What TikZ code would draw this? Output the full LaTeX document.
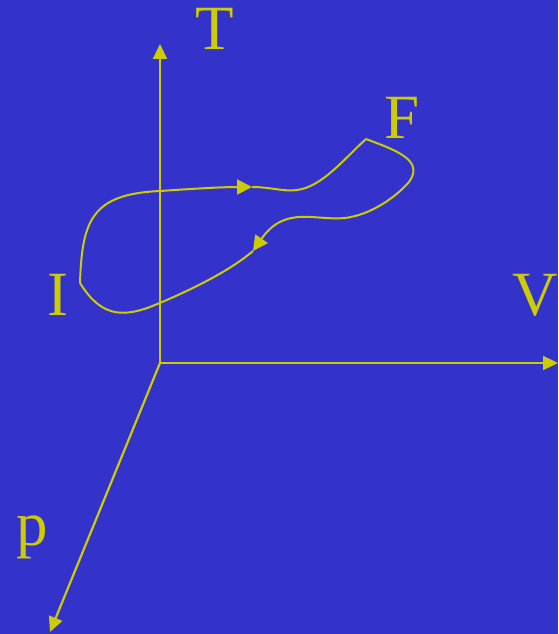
\documentclass[tikz,border=0pt]{standalone}
\usepackage{fontspec}
\setmainfont{Liberation Serif}
\usetikzlibrary{arrows.meta}
\definecolor{bg}{HTML}{3333CC}
\definecolor{yel}{HTML}{CCCC00}
\begin{document}
\begin{tikzpicture}[x=1pt,y=-1pt,
  axis/.style={draw=yel,line width=2.2pt,-{Triangle[length=15pt,width=14pt]}},
  curve/.style={draw=yel,line width=2pt},
  tip/.style={-{Triangle[length=15pt,width=15pt]}},
  lab/.style={text=yel,font=\fontsize{63}{63}\selectfont,inner sep=0pt}]
\fill[bg] (0,0) rectangle (558,634);
\useasboundingbox (0,0) rectangle (558,634);
\coordinate (O) at (160,363);
\coordinate (Tend) at (160,44);
\coordinate (Vend) at (558,363);
\coordinate (pend) at (50,632);
\draw[axis] (O) -- (Tend);
\draw[axis] (O) -- (Vend);
\draw[axis] (O) -- (pend);
\node[lab] (T) at (214.5,29) {T};
\node[lab] (F) at (402,117.5) {F};
\node[lab] (I) at (58,295) {I};
\node[lab] (V) at (535,295) {V};
\node[lab,anchor=base] (p) at (32,545) {p};
\coordinate (ci) at (80,283);
\coordinate (a1) at (252,187);
\coordinate (cf) at (366,139);
\coordinate (a2) at (253,251);
\draw[curve,tip] (ci) .. controls (82,220) and (92,194) .. (160,191) .. controls (190,189) and (220,187) .. (a1);
\draw[curve] (a1) .. controls (270,187) and (285,192) .. (297,190) .. controls (322,187) and (345,158) .. (cf);
\draw[curve,tip] (cf) .. controls (395,150) and (425,160) .. (409,182) .. controls (395,198) and (370,215) .. (345,218) .. controls (315,221) and (285,205) .. (a2);
\draw[curve] (a2) .. controls (225,275) and (175,297) .. (150,307) .. controls (120,318) and (100,315) .. (ci);
\end{tikzpicture}
\end{document}
